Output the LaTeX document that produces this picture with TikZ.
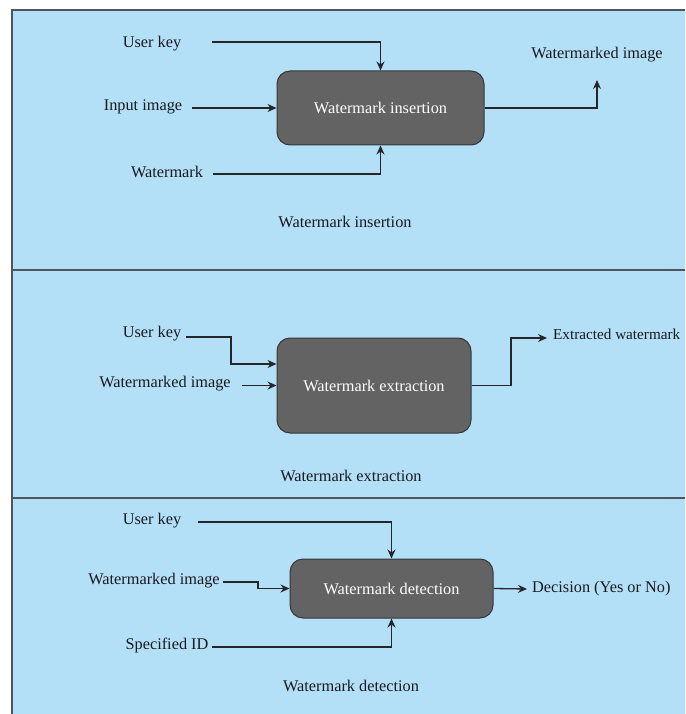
\documentclass[tikz,border=0pt]{standalone}
\usepackage{fontspec}
\setmainfont{Liberation Serif}
\usetikzlibrary{arrows.meta}
\definecolor{panelbg}{RGB}{180,224,247}
\definecolor{framecol}{RGB}{80,84,92}
\definecolor{boxfill}{RGB}{99,99,99}
\definecolor{boxline}{RGB}{55,55,55}
\definecolor{linecol}{RGB}{38,38,42}
\definecolor{txtcol}{RGB}{25,25,32}
\tikzset{
  lbl/.style={inner sep=0pt, text=txtcol, font=\fontsize{16.3}{19}\selectfont},
  procbox/.style={draw=boxline, line width=1pt, fill=boxfill, rounded corners=13pt,
    text=white, font=\fontsize{16.3}{19}\selectfont, inner sep=0pt},
  conn/.style={draw=linecol, line width=1.3pt},
  arr/.style={conn, -{Stealth[length=9pt,width=8pt]}},
}
\begin{document}
\begin{tikzpicture}[x=1pt,y=-1pt]
\useasboundingbox (0,0) rectangle (685,714);
\clip (0,0) rectangle (685,714);
% panels
\fill[panelbg] (12,10) rectangle (690,720);
\draw[framecol, line width=1.4pt] (690,10) -- (12,10) -- (12,720);
\draw[framecol, line width=1.4pt] (12,270) -- (690,270);
\draw[framecol, line width=1.4pt] (12,498) -- (690,498);

% ---- insertion ----
\node[procbox, minimum width=207pt, minimum height=74pt] (box1) at (380.5,108) {Watermark insertion};
\node[lbl] (uk1) at (152,44) {User key};
\node[lbl] (in1) at (143,107) {Input image};
\node[lbl] (wm1) at (167,172) {Watermark};
\node[lbl] (wmi1) at (597,55) {Watermarked image};
\node[lbl] (cap1) at (345,222) {Watermark insertion};
\coordinate (uk1s) at (212,42);
\coordinate (in1s) at (192,108);
\coordinate (wm1s) at (213,174);
\coordinate (out1) at (597,80);
\draw[arr] (uk1s) -| (box1.north);
\draw[arr] (in1s) -- (box1.west);
\draw[arr] (wm1s) -| (box1.south);
\draw[arr] (box1.east) -| (out1);

% ---- extraction ----
\node[procbox, minimum width=194pt, minimum height=95pt] (box2) at (374,385.5) {Watermark extraction};
\node[lbl] (uk2) at (152,334) {User key};
\node[lbl] (wi2) at (165,384) {Watermarked image};
\node[lbl, anchor=west, font=\fontsize{15.2}{18}\selectfont] (ew2) at (553,334) {Extracted watermark};
\node[lbl] (cap2) at (351,476) {Watermark extraction};
\coordinate (uk2s) at (186,337);
\coordinate (uk2b) at (231,337);
\coordinate (wi2s) at (242,385.5);
\coordinate (out2b) at (511,338);
\coordinate (out2e) at (547,338);
\draw[arr] (uk2s) -- (uk2b) |- ([yshift=21.5pt]box2.west);
\draw[arr] (wi2s) -- (box2.west);
\draw[arr] (box2.east) -| (out2b) -- (out2e);

% ---- detection ----
\node[procbox, minimum width=203pt, minimum height=59pt] (box3) at (391.5,588.5) {Watermark detection};
\node[lbl] (uk3) at (152,521) {User key};
\node[lbl] (wi3) at (154,581) {Watermarked image};
\node[lbl] (sid3) at (167,645) {Specified ID};
\node[lbl, anchor=west] (dec3) at (532,589) {Decision (Yes or No)};
\node[lbl] (cap3) at (351,686) {Watermark detection};
\coordinate (uk3s) at (198,522);
\coordinate (wi3s) at (223,582);
\coordinate (wi3b) at (258,582);
\coordinate (sid3s) at (212,647);
\draw[arr] (uk3s) -| (box3.north);
\draw[arr] (wi3s) -- (wi3b) |- (box3.west);
\draw[arr] (sid3s) -| (box3.south);
\draw[arr] (box3.east) -- ([xshift=-5pt]dec3.west);
\end{tikzpicture}
\end{document}
